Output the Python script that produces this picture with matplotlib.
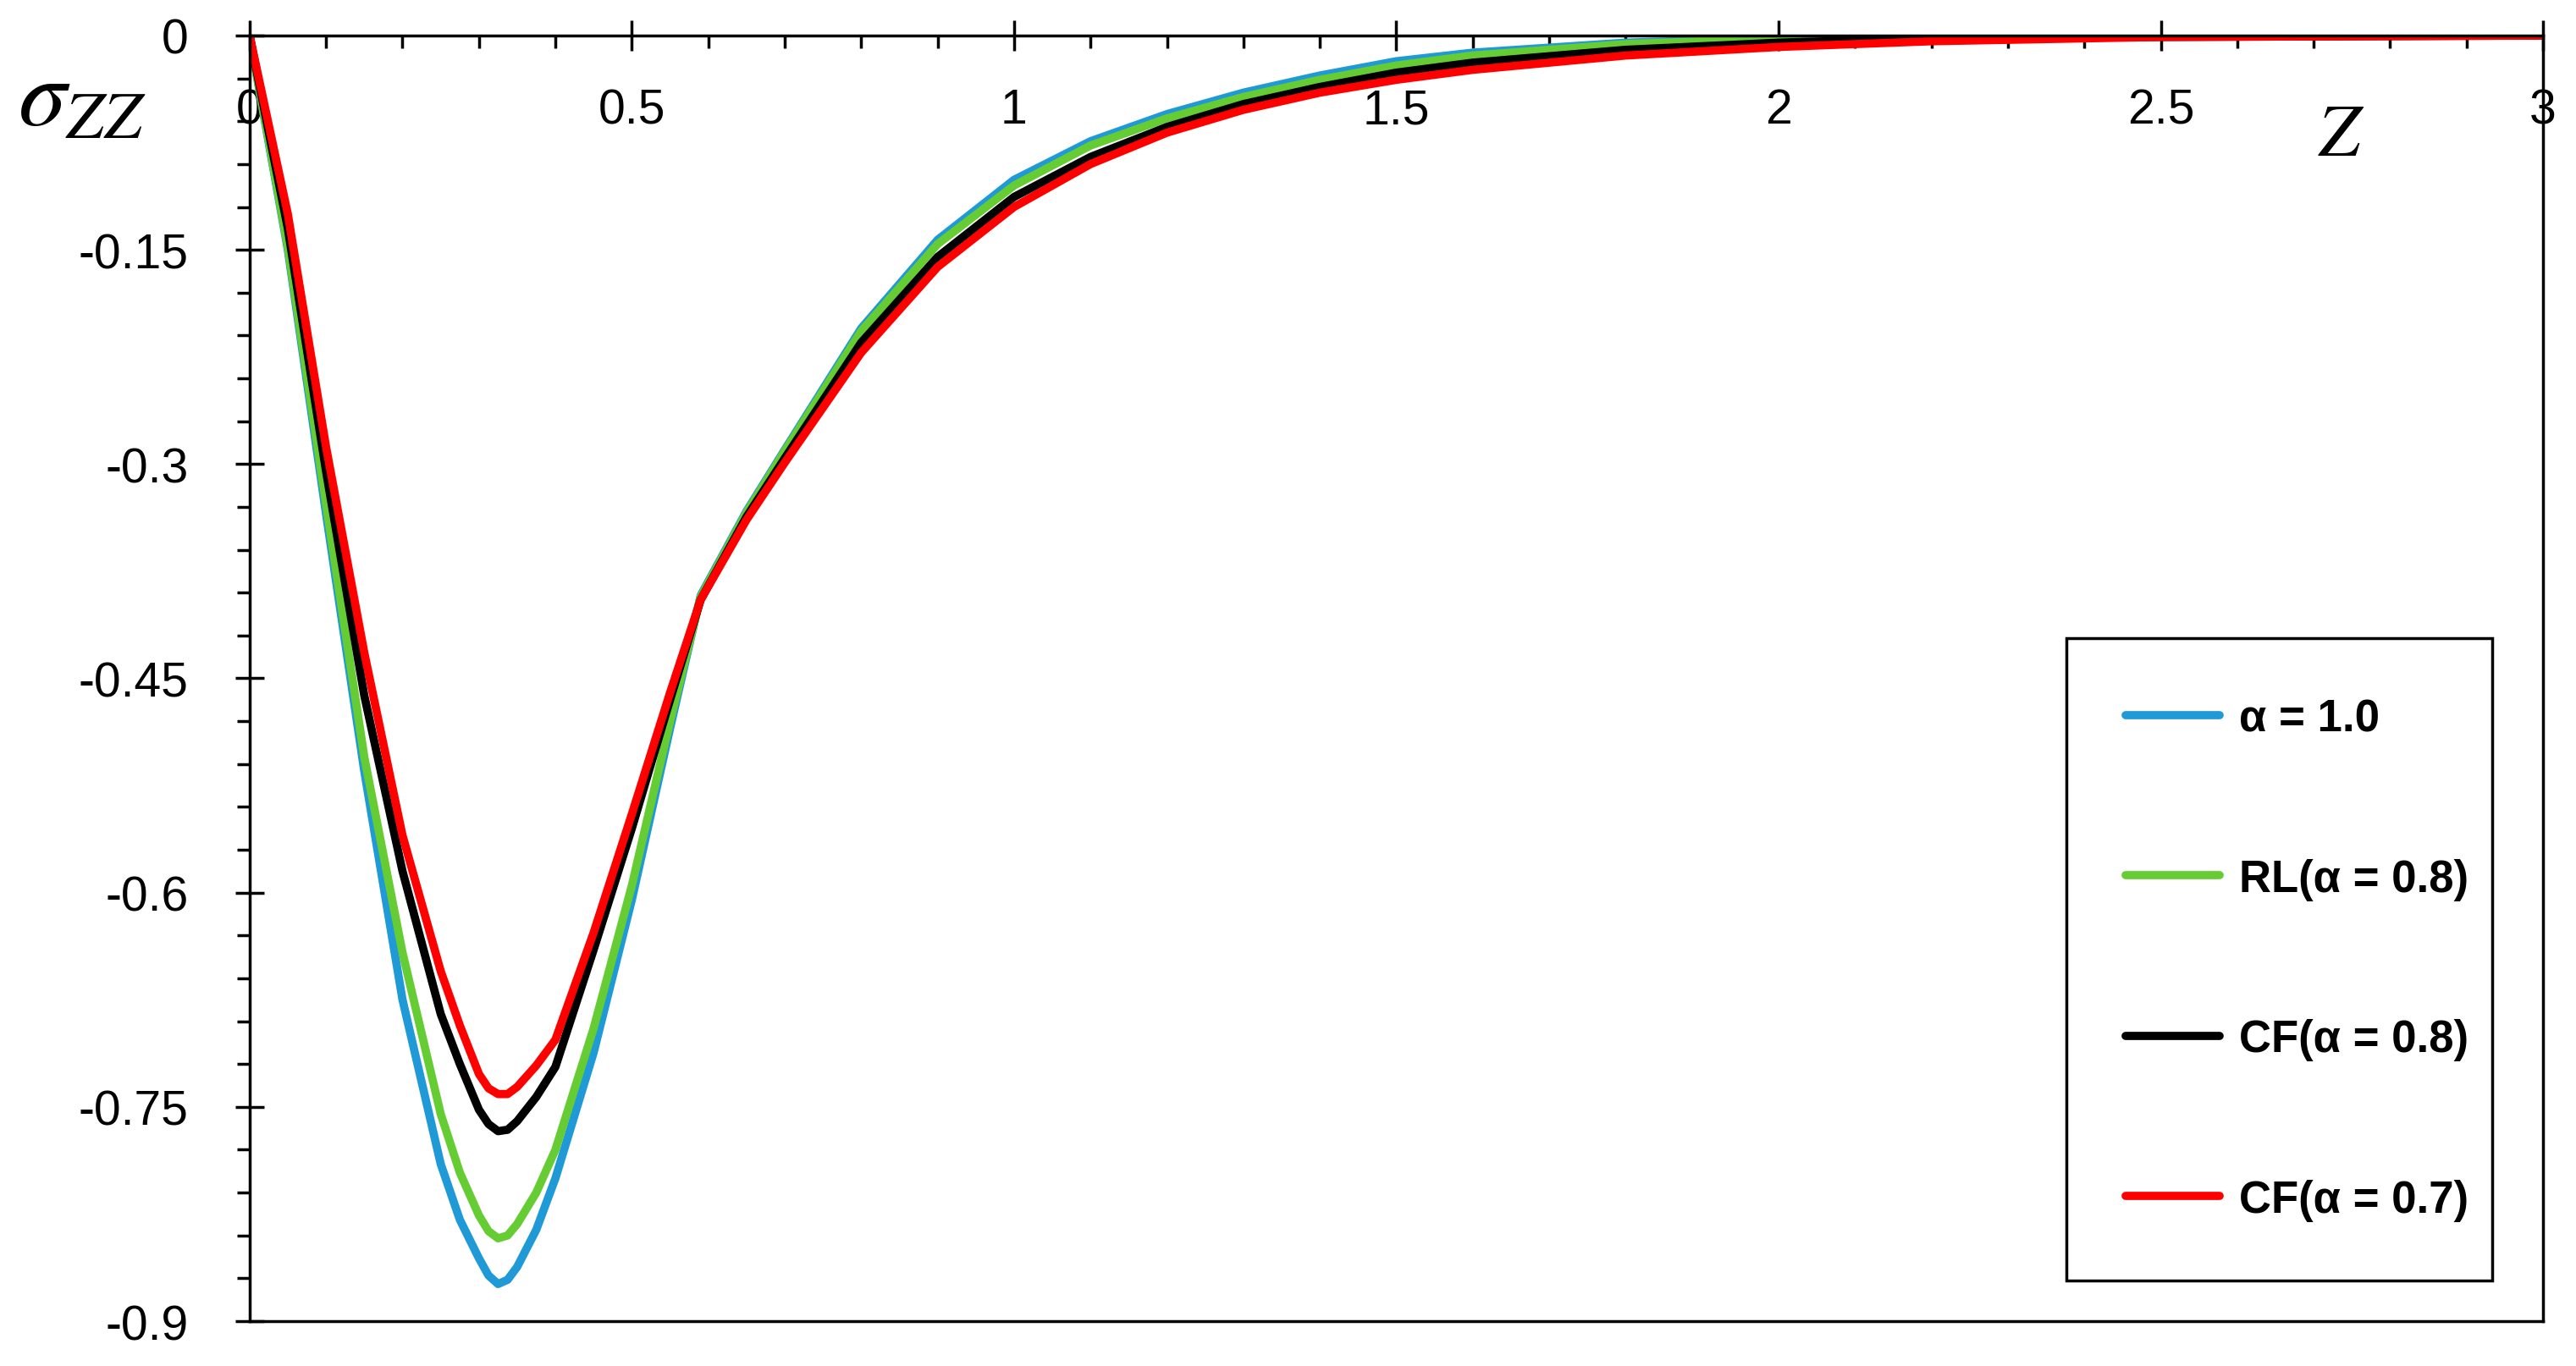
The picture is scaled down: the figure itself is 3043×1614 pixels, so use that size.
import matplotlib
matplotlib.use('Agg')
import matplotlib.pyplot as plt
from matplotlib.ticker import MultipleLocator
import numpy as np

# Values
z = [0, 0.05, 0.1, 0.15, 0.2, 0.25, 0.275, 0.3, 0.3125, 0.325, 0.3375, 0.35,
     0.375, 0.4, 0.45, 0.5, 0.55, 0.59, 0.65, 0.7, 0.8, 0.9, 1.0, 1.1, 1.2,
     1.3, 1.4, 1.5, 1.6, 1.8, 2.0, 2.2, 2.5, 3.0]

sigma_a10 = [0, -0.15, -0.335, -0.515, -0.675, -0.79, -0.829, -0.856, -0.868,
             -0.874, -0.871, -0.862, -0.836, -0.80, -0.712, -0.605, -0.485,
             -0.392, -0.333, -0.29, -0.205, -0.143, -0.101, -0.074, -0.055,
             -0.04, -0.028, -0.018, -0.012, -0.005, -0.002, -0.001, 0, 0]
sigma_rl08 = [0, -0.148, -0.328, -0.505, -0.642, -0.755, -0.796, -0.826,
              -0.837, -0.842, -0.840, -0.832, -0.81, -0.78, -0.695, -0.595,
              -0.48, -0.393, -0.334, -0.291, -0.207, -0.146, -0.105, -0.077,
              -0.058, -0.043, -0.031, -0.021, -0.014, -0.006, -0.002, -0.001,
              0, 0]
sigma_cf08 = [0, -0.135, -0.305, -0.462, -0.585, -0.685, -0.72, -0.752,
              -0.762, -0.767, -0.766, -0.76, -0.743, -0.722, -0.64, -0.555,
              -0.465, -0.395, -0.337, -0.296, -0.215, -0.155, -0.113, -0.085,
              -0.064, -0.048, -0.036, -0.026, -0.019, -0.010, -0.005, -0.002,
              -0.001, 0]
sigma_cf07 = [0, -0.125, -0.288, -0.432, -0.56, -0.655, -0.693, -0.727,
              -0.737, -0.741, -0.741, -0.736, -0.721, -0.703, -0.628, -0.545,
              -0.46, -0.395, -0.339, -0.299, -0.222, -0.162, -0.12, -0.09,
              -0.068, -0.052, -0.04, -0.031, -0.024, -0.014, -0.008, -0.004,
              -0.001, 0]

series_labels = ['α = 1.0', 'RL(α = 0.8)', 'CF(α = 0.8)', 'CF(α = 0.7)']
series_colors = ['#1f9ad6', '#66cc33', '#000000', '#ff0000']

x_ticks = [0, 0.5, 1, 1.5, 2, 2.5, 3]
x_ticklabels = ['0', '0.5', '1', '1.5', '2', '2.5', '3']
y_ticks = [-0.9, -0.75, -0.6, -0.45, -0.3, -0.15, 0]
y_ticklabels = ['-0.9', '-0.75', '-0.6', '-0.45', '-0.3', '-0.15', '0']

plt.rcParams['font.family'] = ['Liberation Sans', 'DejaVu Sans']
plt.rcParams['mathtext.fontset'] = 'stix'

fig = plt.figure(figsize=(30.43, 16.15), dpi=100)
ax = fig.add_axes([0.0969, 0.0328, 0.8903, 0.9406])

for ys, lab, col in zip([sigma_a10, sigma_rl08, sigma_cf08, sigma_cf07],
                        series_labels, series_colors):
    ax.plot(z, ys, color=col, lw=7, label=lab,
            solid_joinstyle='round', solid_capstyle='round')

ax.set_xlim(0, 3)
ax.set_ylim(-0.9, 0)

for sp in ax.spines.values():
    sp.set_linewidth(2.5)

# x axis sits on the top edge, labels drawn just below it
ax.xaxis.set_ticks_position('top')
ax.set_xticks(x_ticks)
ax.set_xticklabels(x_ticklabels)
ax.xaxis.set_minor_locator(MultipleLocator(0.1))
ax.tick_params(axis='x', which='major', direction='inout', length=26,
               width=2.5, labelsize=41, pad=-57)
ax.tick_params(axis='x', which='minor', direction='in', length=11, width=2.5)
for t in ax.xaxis.get_major_ticks():
    t.label2.set_va('top')

ax.yaxis.set_ticks_position('left')
ax.set_yticks(y_ticks)
ax.set_yticklabels(y_ticklabels)
ax.yaxis.set_minor_locator(MultipleLocator(0.03))
ax.tick_params(axis='y', which='major', direction='inout', length=24,
               width=2.5, labelsize=41, pad=40)
ax.tick_params(axis='y', which='minor', direction='out', length=11, width=2.5)

ax.set_xlabel(r'$Z$', fontsize=63)
ax.xaxis.set_label_position('top')
ax.xaxis.set_label_coords(0.912, 0.907)
ax.xaxis.label.set_va('baseline')

ax.set_ylabel(r'$\sigma_{ZZ}$', fontsize=82, rotation=0)
ax.yaxis.set_label_coords(-0.073, 0.931)
ax.yaxis.label.set_va('baseline')
ax.yaxis.label.set_ha('center')

leg = ax.legend(loc='upper left', bbox_to_anchor=(0.792, 0.038, 0.186, 0.493),
                mode='expand', prop={'weight': 'bold', 'size': 38},
                handlelength=2.1, handletextpad=0.45, labelspacing=2.64,
                borderpad=1.33, fancybox=False, framealpha=1,
                edgecolor='black', borderaxespad=0)
leg.get_frame().set_linewidth(2.5)

fig.savefig('out.png', dpi=100)
